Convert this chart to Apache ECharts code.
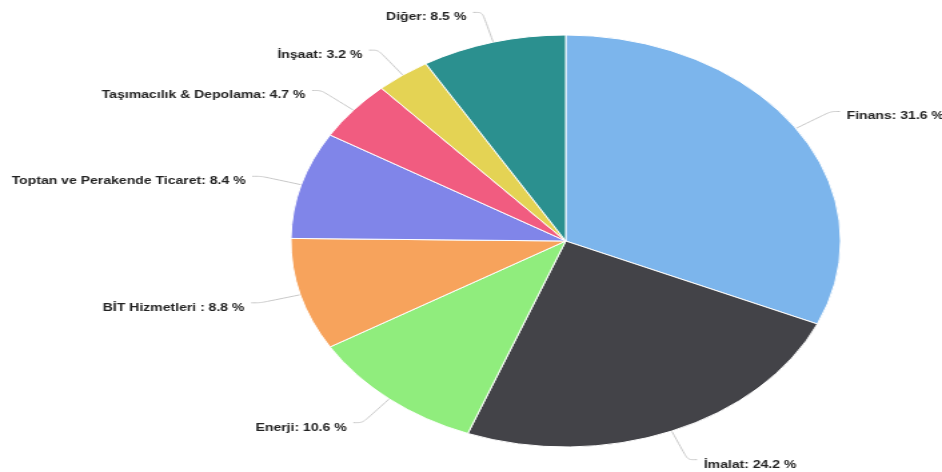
<!DOCTYPE html>
<html>
<head>
<meta charset="utf-8">
<script src="https://cdn.jsdelivr.net/npm/echarts@6/dist/echarts.min.js"></script>
<style>
html,body{margin:0;padding:0;background:#fff;overflow:hidden;}
#wrap{width:942px;height:472px;overflow:hidden;position:relative;}
#chart{width:706px;height:472px;transform:scaleX(1.3343);transform-origin:0 0;}
</style>
</head>
<body>
<div id="wrap"><div id="chart"></div></div>
<script>
const categories = ['Finans','İmalat','Enerji','BİT Hizmetleri ','Toptan ve Perakende Ticaret','Taşımacılık & Depolama','İnşaat','Diğer'];
const values = [31.6, 24.2, 10.6, 8.8, 8.4, 4.7, 3.2, 8.5];
const colors = ['#7cb5ec','#434348','#90ed7d','#f7a35c','#8085e9','#f15c80','#e4d354','#2b908f'];

const chart = echarts.init(document.getElementById('chart'), null, {renderer:'canvas'});
chart.setOption({
  animation:false,
  color: colors,
  series:[{
    type:'pie',
    center:[424,241],
    radius:206,
    startAngle:90,
    clockwise:true,
    avoidLabelOverlap:true,
    itemStyle:{borderColor:'#fff',borderWidth:1},
    label:{
      show:true,
      position:'outside',
      overflow:'none',
      formatter: p => p.name + ': ' + p.value.toFixed(1) + ' %',
      color:'#222',
      fontFamily:'Liberation Sans, Arial, sans-serif',
      fontSize:10.5,
      fontWeight:'bold'
    },
    labelLayout:{dy:5},
    labelLine:{show:true,length:31,length2:7,smooth:0.3,lineStyle:{color:'#c8c8c8',width:1}},
    data: categories.map((c,i)=>({name:c,value:values[i]}))
  }]
});
</script>
</body>
</html>
